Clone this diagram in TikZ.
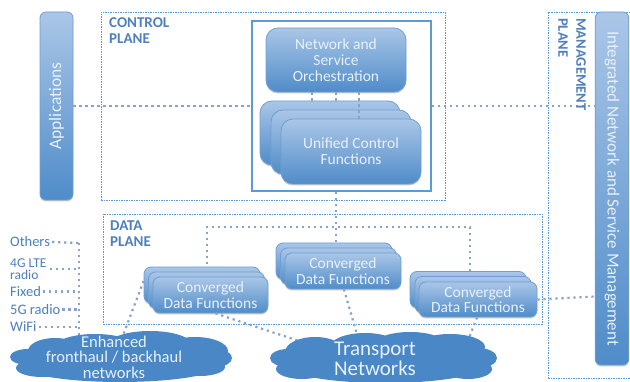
\documentclass[tikz,border=0pt]{standalone}
\usepackage{fontspec}
\setmainfont{Carlito}
\usetikzlibrary{shadows}
\definecolor{lbl}{HTML}{4F7FBE}
\definecolor{boxtop}{HTML}{AAC6E7}
\definecolor{boxbot}{HTML}{4F8CC9}
\definecolor{boxline}{HTML}{6F9FD2}
\definecolor{dotc}{HTML}{86A3CC}
\definecolor{planec}{HTML}{5B9BD5}
\definecolor{cloudc}{HTML}{4A87C6}
\definecolor{txtc}{HTML}{E8F0F8}
\tikzset{
 gbox/.style={draw=boxline,line width=0.8pt,top color=boxtop,bottom color=boxbot,inner sep=0pt,align=center,text=txtc,
   drop shadow={shadow xshift=0pt,shadow yshift=-1.5pt,opacity=.35,fill=black!60},font=\fontsize{15.5}{16}\selectfont},
 bigbox/.style={gbox,minimum width=140pt,minimum height=64pt,rounded corners=12pt},
 cdbox/.style={gbox,minimum width=116pt,minimum height=36pt,rounded corners=7pt,font=\fontsize{15.5}{15.5}\selectfont},
 barbox/.style={gbox,rounded corners=6pt,font=\fontsize{17.5}{22}\selectfont},
 plane/.style={draw=planec,line width=0.7pt,dash pattern=on 2pt off 1pt on 1pt off 1pt,inner sep=0pt},
 planelbl/.style={text=lbl,font=\bfseries\fontsize{15}{16}\selectfont,align=left,inner sep=0pt},
 src/.style={text=lbl,font=\fontsize{14.5}{11.5}\selectfont,align=left,inner sep=0pt,anchor=west},
 dots/.style={draw=dotc,line width=2.2pt,dash pattern=on 2.2pt off 3.8pt},
 puff/.style={fill=cloudc,draw=none},
 cloudt/.style={text=txtc,align=center,inner sep=0pt},
}
\begin{document}
\begin{tikzpicture}[x=1pt,y=-1pt]
\useasboundingbox (0,0) rectangle (630,382);
\fill[white] (0,0) rectangle (630,382);
\clip (0,0) rectangle (630,382);
% planes
\node[plane,minimum width=344pt,minimum height=188pt] (control) at (273,106) {};
\node[plane,minimum width=439pt,minimum height=110pt] (data) at (322.5,269) {};
\node[plane,minimum width=82pt,minimum height=366pt] (mgmt) at (589,195) {};
\node[draw=planec,line width=1.4pt,minimum width=179pt,minimum height=170pt,inner sep=0pt] (ctrlframe) at (341.5,106) {};
% named junctions and connector ends on the clouds
\coordinate (jc) at (336,227);
\coordinate (jl) at (207,227);
\coordinate (jr) at (470,227);
\coordinate (vt) at (79,243);
\coordinate (vb) at (79,338);
\coordinate (fa) at (122,338);
\coordinate (ta) at (305,343);
\coordinate (tb) at (358,338);
\coordinate (tc) at (469,338);
% bars
\node[barbox,minimum width=33pt,minimum height=188pt] (apps) at (56.5,106) {\rotatebox{90}{Applications}};
\node[barbox,minimum width=33.5pt,minimum height=353pt,font=\fontsize{17}{22}\selectfont] (mbar) at (612,188.5) {\rotatebox{-90}{Integrated Network and Service Management}};
\draw[dots] (apps.east) -- (ctrlframe.west);
\draw[dots] (ctrlframe.east) -- (mbar.west |- ctrlframe.east);
% control plane
\node[bigbox] (u1) at (330,133) {};
\node[bigbox] (u2) at (341,142) {};
\node[bigbox,minimum height=65pt] (u3) at (351,151.5) {Unified Control\\Functions};
\node[bigbox] (nso) at (336,60) {Network and\\Service\\Orchestration};
\draw[dots] ([xshift=-24pt]nso.south) -- ([xshift=-18pt]u1.north);
\draw[dots] (nso.south) -- ([xshift=6pt]u1.north);
\draw[dots] ([xshift=23pt]nso.south) -- ([xshift=8pt]u3.north);
% data plane connectors
\draw[dots] (ctrlframe.south -| jc) -- (jc) -- (jc |- 0,243);
\draw[dots] (jl |- 0,270) -- (jl) -- (jc) -- (jr) -- (jr |- 0,272);
% data plane
\node[cdbox] (a1) at (202,285) {};
\node[cdbox] (a2) at (206.5,290) {};
\node[cdbox,minimum width=115pt] (a3) at (210.5,295) {Converged\\Data Functions};
\node[cdbox] (b1) at (334,261) {};
\node[cdbox] (b2) at (338.5,266) {};
\node[cdbox] (b3) at (343,271) {Converged\\Data Functions};
\node[cdbox] (c1) at (468,289.5) {};
\node[cdbox] (c2) at (473,294.5) {};
\node[cdbox,minimum width=118pt,minimum height=35pt] (c3) at (478,299.5) {Converged\\Data Functions};
\draw[dots] ([yshift=4pt]a1.west) -- (fa);
\draw[dots] ([xshift=5pt]a3.south) -- (ta);
\draw[dots] ([xshift=1pt]b3.south) -- (tb);
\draw[dots] ([xshift=-1pt]c3.south) -- (tc);
\draw[dots] (c3.east) -- ([yshift=3pt]c3.east -| mbar.west);
% access labels
\node[src] (o) at (10,242) {Others};
\node[src,font=\fontsize{13.5}{12.5}\selectfont] (g4) at (10,269) {4G LTE\\radio};
\node[src] (fx) at (10,291.5) {Fixed};
\node[src] (g5) at (10,309.5) {5G radio};
\node[src] (wf) at (10,327) {WiFi};
\draw[dots] ([xshift=2pt]o.east) -- (vt);
\draw[dots] ([xshift=3pt]g4.east) -- (vt |- g4.east);
\draw[dots] ([xshift=2pt]fx.east) -- (vt |- fx.east);
\draw[dots] ([xshift=2pt]g5.east) -- (vt |- g5.east);
\draw[dots] ([xshift=2pt]wf.east) -- (vt |- wf.east);
\draw[dots] (vt) -- (vb);
% clouds
\path[puff] (28,357) ellipse [x radius=18pt,y radius=8pt]
 (55,351) ellipse [x radius=27pt,y radius=13pt]
 (95,347) ellipse [x radius=40pt,y radius=13pt]
 (150,345) ellipse [x radius=42pt,y radius=14pt]
 (195,351) ellipse [x radius=33pt,y radius=14pt]
 (216,358) ellipse [x radius=16pt,y radius=9pt]
 (120,365) ellipse [x radius=100pt,y radius=17pt]
 (42,368) ellipse [x radius=26pt,y radius=9pt]
 (200,367) ellipse [x radius=25pt,y radius=9pt];
\path[puff] (288,358) ellipse [x radius=18pt,y radius=9pt]
 (315,352) ellipse [x radius=30pt,y radius=15pt]
 (365,347) ellipse [x radius=35pt,y radius=14pt]
 (410,344) ellipse [x radius=35pt,y radius=12pt]
 (450,347) ellipse [x radius=35pt,y radius=13pt]
 (478,358) ellipse [x radius=19pt,y radius=10pt]
 (385,365) ellipse [x radius=100pt,y radius=18pt]
 (302,369) ellipse [x radius=26pt,y radius=10pt]
 (468,369) ellipse [x radius=24pt,y radius=10pt];
% cloud text
\node[cloudt,font=\fontsize{16.5}{15.5}\selectfont] (ftext) at (114,357) {Enhanced\\fronthaul / backhaul\\networks};
\node[cloudt,font=\fontsize{21}{20.5}\selectfont] (ttext) at (375,359) {Transport\\Networks};
% plane labels
\node[planelbl,anchor=north west] (lc) at (109,17) {CONTROL\\PLANE};
\node[planelbl,anchor=north west] (ld) at (110,221) {DATA\\PLANE};
\node[planelbl,anchor=north west,rotate=-90,font=\bfseries\fontsize{14.5}{18}\selectfont] (lm) at (586,18) {MANAGEMENT\\PLANE};
\end{tikzpicture}
\end{document}
